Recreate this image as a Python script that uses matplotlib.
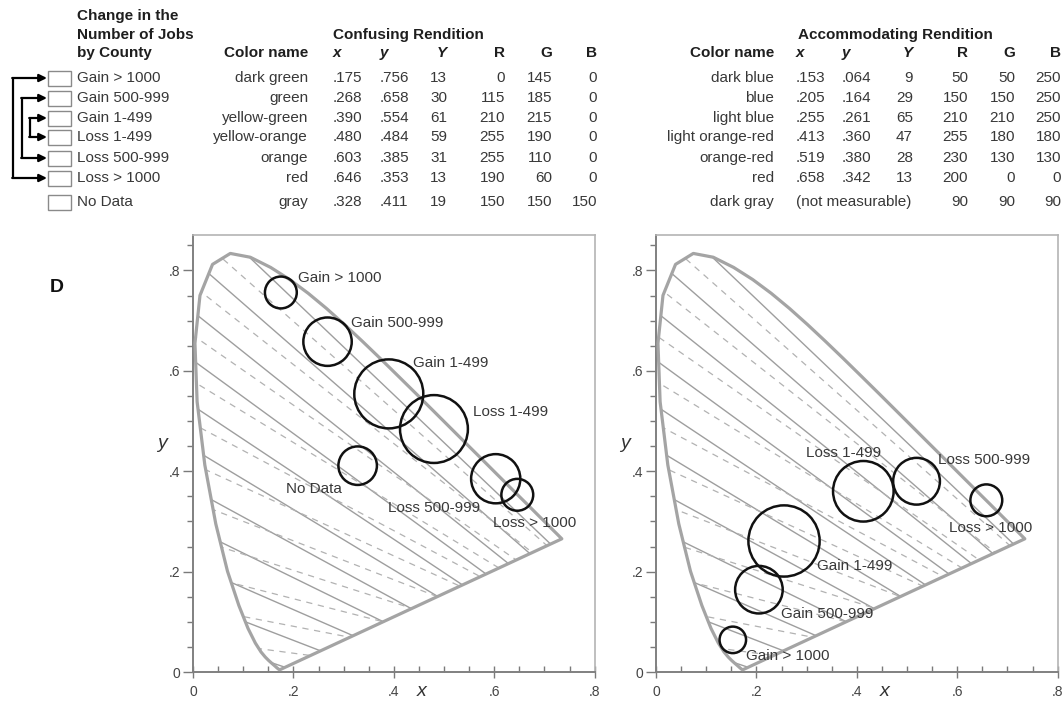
import numpy as np
import matplotlib.pyplot as plt
from matplotlib.patches import Polygon, Circle, Rectangle

plt.rcParams['font.family'] = ['Liberation Sans', 'DejaVu Sans']

# CIE 1931 spectral locus, 380-700 nm
locus_x = [0.1741, 0.1740, 0.1738, 0.1736, 0.1733, 0.1730, 0.1726, 0.1721, 0.1714, 0.1703,
           0.1689, 0.1669, 0.1644, 0.1611, 0.1566, 0.1510, 0.1440, 0.1355, 0.1241, 0.1096,
           0.0913, 0.0687, 0.0454, 0.0235, 0.0082, 0.0039, 0.0139, 0.0389, 0.0743, 0.1142,
           0.1547, 0.1929, 0.2296, 0.2658, 0.3016, 0.3373, 0.3731, 0.4087, 0.4441, 0.4788,
           0.5125, 0.5448, 0.5752, 0.6029, 0.6270, 0.6482, 0.6658, 0.6801, 0.6915, 0.7006,
           0.7079, 0.7140, 0.7190, 0.7230, 0.7260, 0.7283, 0.7300, 0.7311, 0.7320, 0.7334,
           0.7344, 0.7347]
locus_y = [0.0050, 0.0050, 0.0049, 0.0049, 0.0048, 0.0048, 0.0048, 0.0048, 0.0051, 0.0058,
           0.0069, 0.0086, 0.0109, 0.0138, 0.0177, 0.0227, 0.0297, 0.0399, 0.0578, 0.0868,
           0.1327, 0.2007, 0.2950, 0.4127, 0.5384, 0.6548, 0.7502, 0.8120, 0.8338, 0.8262,
           0.8059, 0.7816, 0.7543, 0.7243, 0.6923, 0.6589, 0.6245, 0.5896, 0.5547, 0.5202,
           0.4866, 0.4544, 0.4242, 0.3965, 0.3725, 0.3514, 0.3340, 0.3197, 0.3083, 0.2993,
           0.2920, 0.2859, 0.2809, 0.2770, 0.2740, 0.2717, 0.2700, 0.2689, 0.2680, 0.2666,
           0.2656, 0.2653]

# confusion lines: copunctal point and line directions (degrees)
solid_point = (1.40, -0.40)
solid_angles = [136.4, 138.9, 141.4, 143.9, 146.4, 148.9, 151.4, 153.9, 156.4, 158.9, 161.4]
dashed_point = (1.08, -0.08)
dashed_angles = [138.5, 141.8, 145.2, 148.6, 152.0, 155.4, 158.8, 162.2, 165.6, 169.0, 172.4]

classes = ['Gain > 1000', 'Gain 500-999', 'Gain 1-499', 'Loss 1-499',
           'Loss 500-999', 'Loss > 1000', 'No Data']

conf_names = ['dark green', 'green', 'yellow-green', 'yellow-orange', 'orange', 'red', 'gray']
conf_x = [.175, .268, .390, .480, .603, .646, .328]
conf_y = [.756, .658, .554, .484, .385, .353, .411]
conf_Y = [13, 30, 61, 59, 31, 13, 19]
conf_R = [0, 115, 210, 255, 255, 190, 150]
conf_G = [145, 185, 215, 190, 110, 60, 150]
conf_B = [0, 0, 0, 0, 0, 0, 150]

acc_names = ['dark blue', 'blue', 'light blue', 'light orange-red', 'orange-red', 'red', 'dark gray']
acc_x = [.153, .205, .255, .413, .519, .658]
acc_y = [.064, .164, .261, .360, .380, .342]
acc_Y = [9, 29, 65, 47, 28, 13]
acc_R = [50, 150, 210, 255, 230, 200, 90]
acc_G = [50, 150, 210, 180, 130, 0, 90]
acc_B = [250, 250, 250, 180, 130, 0, 90]

W, H = 1063, 703
fig = plt.figure(figsize=(W / 100, H / 100), dpi=100)

# overlay in pixel coords for the table / legend / labels
ov = fig.add_axes([0, 0, 1, 1])
ov.set_xlim(0, W)
ov.set_ylim(H, 0)
ov.axis('off')

dark = '#1e1e1e'
txt = '#383838'
fs = 11

ov.text(77, 16, 'Change in the', fontsize=fs, weight='bold', color=dark, va='center')
ov.text(77, 35, 'Number of Jobs', fontsize=fs, weight='bold', color=dark, va='center')
ov.text(77, 53, 'by County', fontsize=fs, weight='bold', color=dark, va='center')
ov.text(333, 35, 'Confusing Rendition', fontsize=fs, weight='bold', color=dark, va='center')
ov.text(798, 35, 'Accommodating Rendition', fontsize=fs, weight='bold', color=dark, va='center')

row_y = [78, 98, 118, 137, 158, 178, 202]
hy = 53


def fmt(v):
    return f'{v:.3f}'[1:]


# column positions (x, ha) for each table block
cols_conf = [(308, 'right'), (333, 'left'), (380, 'left'), (447, 'right'), (505, 'right'), (552, 'right'), (597, 'right')]
cols_acc = [(774, 'right'), (796, 'left'), (842, 'left'), (913, 'right'), (968, 'right'), (1015, 'right'), (1061, 'right')]

for cols in (cols_conf, cols_acc):
    ov.text(cols[0][0], hy, 'Color name', fontsize=fs, weight='bold', color=dark, ha='right', va='center')
    for (cx, ha), h in zip(cols[1:4], ['x', 'y', 'Y']):
        ov.text(cx, hy, h, fontsize=fs, weight='bold', style='italic', color=dark, ha=ha, va='center')
    for (cx, ha), h in zip(cols[4:], ['R', 'G', 'B']):
        ov.text(cx, hy, h, fontsize=fs, weight='bold', color=dark, ha=ha, va='center')

for i, ry in enumerate(row_y):
    ov.add_patch(Rectangle((48, ry - 7.5), 23, 15, fill=False, ec='#8a8a8a', lw=1.0))
    ov.text(77, ry, classes[i], fontsize=fs, color=txt, va='center')
    vals = [conf_names[i], fmt(conf_x[i]), fmt(conf_y[i]), str(conf_Y[i]),
            str(conf_R[i]), str(conf_G[i]), str(conf_B[i])]
    for (cx, ha), v in zip(cols_conf, vals):
        ov.text(cx, ry, v, fontsize=fs, color=txt, ha=ha, va='center')
    if i < len(acc_x):
        vals = [acc_names[i], fmt(acc_x[i]), fmt(acc_y[i]), str(acc_Y[i]),
                str(acc_R[i]), str(acc_G[i]), str(acc_B[i])]
        for (cx, ha), v in zip(cols_acc, vals):
            ov.text(cx, ry, v, fontsize=fs, color=txt, ha=ha, va='center')
    else:
        ov.text(cols_acc[0][0], ry, acc_names[i], fontsize=fs, color=txt, ha='right', va='center')
        ov.text(796, ry, '(not measurable)', fontsize=fs, color=txt, ha='left', va='center')
        for (cx, ha), v in zip(cols_acc[4:], [acc_R[i], acc_G[i], acc_B[i]]):
            ov.text(cx, ry, str(v), fontsize=fs, color=txt, ha=ha, va='center')

# bracket arrows pairing gain / loss classes
for bx, a, b in [(13, 0, 5), (22, 1, 4), (30, 2, 3)]:
    ov.plot([bx, bx], [row_y[a], row_y[b]], color='k', lw=1.6, solid_capstyle='butt')
    for r in (a, b):
        ov.annotate('', xy=(47, row_y[r]), xytext=(bx - 0.8, row_y[r]),
                    arrowprops=dict(arrowstyle='-|>,head_length=0.45,head_width=0.22',
                                    color='k', lw=1.6, shrinkA=0, shrinkB=0))

ov.text(50, 288, 'D', fontsize=14, weight='bold', color='#111', va='center')

# chromaticity panels
u = 502.0
pw, ph = 0.8 * u, 0.87 * u
panels = [(193, conf_x[:7], conf_y[:7], conf_Y[:7], classes[:7]),
          (656, acc_x, acc_y, acc_Y, classes[:6])]

# label offsets from circle centre (px, +up) and alignment
offs_left = [(17, 14.5, 'left'), (23.5, 18.7, 'left'), (24, 31, 'left'), (39, 17, 'left'),
             (-15.7, -29.3, 'right'), (-24.3, -28.2, 'left'), (-15.7, -23.3, 'right')]
offs_right = [(13, -16, 'left'), (22, -24, 'left'), (33, -24.7, 'left'), (-57, 38, 'left'),
              (21.5, 21, 'left'), (-37, -28, 'left')]

for (x0, px, py, pY, labs), offs in zip(panels, [offs_left, offs_right]):
    ax = fig.add_axes([x0 / W, (H - 672) / H, pw / W, ph / H])
    ax.set_xlim(0, 0.8)
    ax.set_ylim(0, 0.87)
    ax.patch.set_alpha(0)

    poly = Polygon(np.column_stack([locus_x, locus_y]), closed=True, fill=False,
                   ec='#a4a4a4', lw=2.3, joinstyle='round', zorder=3)
    ax.add_patch(poly)
    for pt, angs, ls, col, lw in [(solid_point, solid_angles, '-', '#9e9e9e', 1.0),
                                  (dashed_point, dashed_angles, (0, (5, 4.5)), '#b2b2b2', 0.9)]:
        for a in angs:
            t = np.radians(a)
            ln, = ax.plot([pt[0], pt[0] + 3 * np.cos(t)], [pt[1], pt[1] + 3 * np.sin(t)],
                          color=col, lw=lw, linestyle=ls, zorder=2)
            ln.set_clip_path(poly)

    for x, y, Yv, lab, (dx, dy, ha) in zip(px, py, pY, labs, offs):
        ax.add_patch(Circle((x, y), 0.0088 * np.sqrt(Yv), fill=False, ec='#111', lw=1.8, zorder=4))
        ax.annotate(lab, xy=(x, y), xytext=(dx * 0.72, dy * 0.72), textcoords='offset points',
                    ha=ha, va='center', fontsize=fs, color=txt, zorder=5)

    for side in ('top', 'right'):
        ax.spines[side].set_color('#b4b4b4')
        ax.spines[side].set_linewidth(1.2)
    for side in ('left', 'bottom'):
        ax.spines[side].set_color('#808080')
        ax.spines[side].set_linewidth(1.4)

    ax.set_xticks([0, .2, .4, .6, .8])
    ax.set_xticklabels(['0', '.2', '.4', '.6', '.8'])
    ax.set_yticks([0, .2, .4, .6, .8])
    ax.set_yticklabels(['0', '.2', '.4', '.6', '.8'])
    ax.set_xticks(np.arange(0, 0.801, 0.05), minor=True)
    ax.set_yticks(np.arange(0, 0.851, 0.05), minor=True)
    ax.tick_params(which='both', color='#7a7a7a', width=1.0, labelsize=10, labelcolor='#444')
    ax.tick_params(axis='x', which='major', direction='inout', length=8, pad=5)
    ax.tick_params(axis='x', which='minor', direction='in', length=4)
    ax.tick_params(axis='y', which='major', direction='out', length=7, pad=2)
    ax.tick_params(axis='y', which='minor', direction='out', length=4)

    ov.text(x0 + 0.455 * u, 692, 'x', fontsize=14, style='italic', color='#333', ha='center', va='center')
    ov.text(x0 - 31, 443, 'y', fontsize=14, style='italic', color='#333', ha='center', va='center')

fig.savefig('out.png', dpi=100)
